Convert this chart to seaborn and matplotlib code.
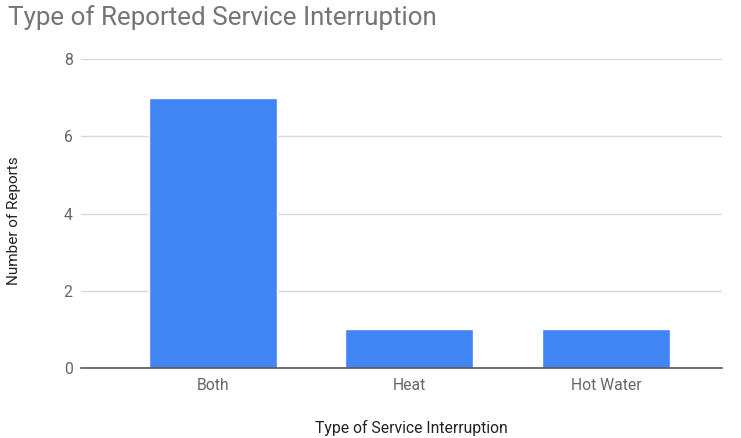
import matplotlib
matplotlib.use("Agg")
import matplotlib.pyplot as plt
import seaborn as sns
import pandas as pd

categories = ["Both", "Heat", "Hot Water"]
reports = [7, 1, 1]
y_ticks = [0, 2, 4, 6, 8]

df = pd.DataFrame({"Type of Service Interruption": categories, "Number of Reports": reports})

sns.set_theme(style="white")
plt.rcParams["font.family"] = ["Roboto", "DejaVu Sans"]

fig = plt.figure(figsize=(7.41, 4.38), dpi=100)
ax = fig.add_axes([0.1093, 0.1598, 0.8651, 0.7055])

sns.barplot(data=df, x="Type of Service Interruption", y="Number of Reports",
            color="#4285F4", saturation=1, width=0.65, ax=ax, zorder=3)

ax.set_xlim(-0.67, 2.59)
ax.set_ylim(0, 8)
ax.set_yticks(y_ticks)
ax.grid(axis="y", color="#d9d9d9", linewidth=1, zorder=0)
for s in ["top", "right", "left"]:
    ax.spines[s].set_visible(False)
ax.spines["bottom"].set_color("#555555")
ax.spines["bottom"].set_linewidth(1.2)
ax.spines["bottom"].set_zorder(4)

ax.tick_params(axis="both", length=0, labelsize=11.3, labelcolor="#666666")
ax.tick_params(axis="y", pad=6)
ax.tick_params(axis="x", pad=7)

ax.set_xlabel("Type of Service Interruption", fontsize=11.3, color="#222222")
ax.set_ylabel("Number of Reports", fontsize=11, color="#222222")
ax.xaxis.set_label_coords(0.515, -0.168)
ax.yaxis.set_label_coords(-0.094, 0.476)

fig.text(8 / 741, 1 - 18 / 438, "Type of Reported Service Interruption",
         fontsize=18.7, color="#757575", ha="left", va="center")

fig.savefig("out.png", dpi=100, facecolor="white")
